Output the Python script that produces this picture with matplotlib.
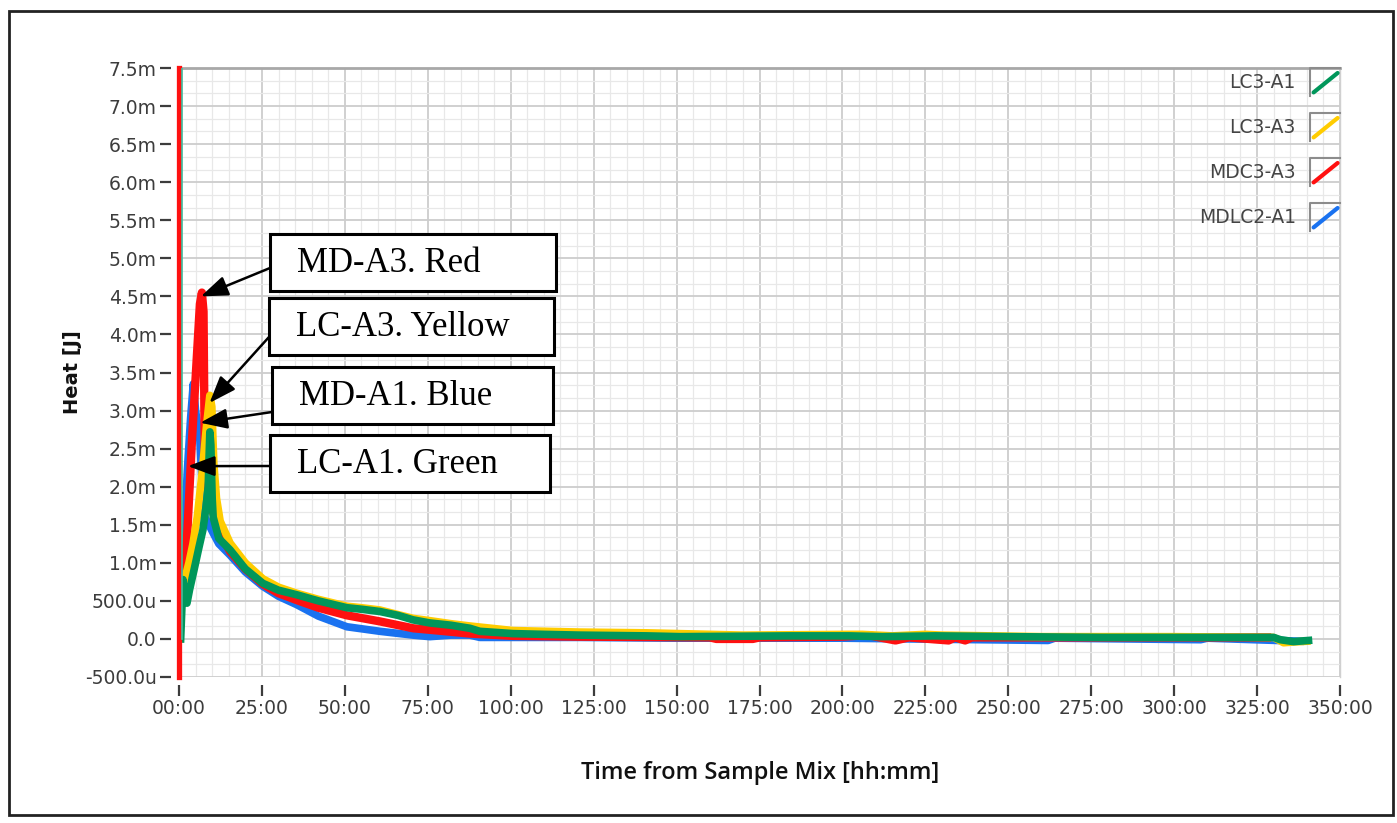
import matplotlib
matplotlib.use("Agg")
import matplotlib.pyplot as plt
from matplotlib.ticker import MultipleLocator, AutoMinorLocator, FuncFormatter
from matplotlib.patches import Rectangle
from matplotlib.lines import Line2D
from matplotlib.legend_handler import HandlerBase

W, H = 1397, 823

# series values, time in the chart's own units, heat in mJ
green_t = [0.5, 1.2, 1.6, 2.4, 3.2, 4.5, 6.0, 7.2, 8.2, 8.8, 9.3, 9.6, 10.0, 10.3, 12.0, 15.4, 20.0,
           25.3, 30.0, 35.5, 42.0, 50.6, 55.0, 60.6, 66.0, 70.6, 75.6, 82.0, 87.7, 90.7, 100.7, 110.0,
           120.9, 141.0, 151.0, 184.0, 202.0, 212.0, 228.0, 250.0, 278.0, 300.0, 330.0, 332.0, 336.0, 340.5]
green_v = [0.0, 0.78, 0.55, 0.47, 0.65, 0.9, 1.2, 1.43, 1.75, 2.0, 2.72, 2.55, 1.85, 1.6, 1.32, 1.17, 0.92,
           0.73, 0.64, 0.58, 0.5, 0.41, 0.39, 0.36, 0.31, 0.25, 0.21, 0.18, 0.14, 0.10, 0.07, 0.06,
           0.05, 0.04, 0.03, 0.04, 0.04, 0.03, 0.04, 0.03, 0.02, 0.02, 0.02, -0.01, -0.035, -0.02]

yellow_t = [0.8, 1.5, 3.0, 4.2, 5.5, 7.0, 8.3, 9.3, 9.9, 10.5, 11.3, 12.4, 15.4, 20.0, 25.3, 30.0, 35.5,
            42.0, 50.6, 55.0, 60.6, 66.0, 70.6, 75.6, 82.0, 87.7, 100.7, 120.9, 141.0, 170.0, 202.0,
            206.0, 215.0, 225.0, 230.0, 260.0, 300.0, 330.0, 333.0, 336.0, 340.0]
yellow_v = [0.6, 0.75, 1.0, 1.25, 1.6, 2.2, 2.8, 3.2, 3.05, 2.3, 1.85, 1.55, 1.26, 1.0, 0.79, 0.68, 0.60,
            0.52, 0.43, 0.41, 0.38, 0.32, 0.27, 0.24, 0.2, 0.17, 0.11, 0.09, 0.08, 0.05, 0.06,
            0.06, 0.04, 0.06, 0.05, 0.03, 0.03, 0.02, -0.05, -0.04, -0.03]

red_t = [1.0, 1.2, 2.4, 3.9, 5.1, 6.3, 6.9, 7.4, 7.8, 9.0, 10.0, 12.4, 15.4, 20.0, 25.3, 30.0, 35.5, 42.0,
         50.6, 60.6, 70.6, 75.6, 87.7, 100.7, 120.0, 160.0, 162.0, 173.0, 175.0, 200.0, 208.0, 210.0,
         216.0, 220.0, 232.0, 234.0, 237.0, 239.0, 270.0, 328.0]
red_v = [0.6, 0.84, 1.3, 2.6, 3.5, 4.4, 4.55, 4.3, 2.2, 1.9, 1.7, 1.38, 1.15, 0.92, 0.72, 0.6, 0.51, 0.41,
         0.31, 0.23, 0.14, 0.12, 0.07, 0.04, 0.03, 0.02, 0.0, 0.0, 0.02, 0.03, 0.05, 0.03,
         -0.02, 0.02, -0.02, 0.02, -0.02, 0.02, 0.02, 0.02]

blue_t = [0.6, 1.5, 2.5, 3.5, 4.3, 5.0, 6.3, 7.0, 7.8, 9.0, 10.3, 12.0, 15.4, 20.0, 25.3, 30.0, 35.5,
          42.0, 50.6, 60.6, 70.6, 75.6, 82.0, 87.7, 90.7, 100.7, 120.9, 150.0, 200.0, 262.0, 264.0,
          308.0, 310.0, 338.0]
blue_v = [0.55, 1.3, 2.2, 2.9, 3.35, 3.0, 2.6, 2.0, 1.6, 1.5, 1.39, 1.25, 1.10, 0.88, 0.69, 0.56, 0.45,
          0.30, 0.16, 0.10, 0.05, 0.03, 0.05, 0.05, 0.02, 0.02, 0.02, 0.01, 0.01, -0.02, 0.01,
          -0.01, 0.01, -0.03]

# start-up spikes at the left edge
red_spike_t = [0.0, 0.0]
red_spike_v = [-0.5, 7.5]
green_spike_t = [0.9, 0.9]
green_spike_v = [0.0, 7.5]

series_names = ["LC3-A1", "LC3-A3", "MDC3-A3", "MDLC2-A1"]
series_colors = ["#00965a", "#ffcc00", "#ff1010", "#1a72f0"]

box_labels = ["MD-A3. Red", "LC-A3. Yellow", "MD-A1. Blue", "LC-A1. Green"]
arrow_tip_t = [6.6, 9.2, 6.4, 2.7]
arrow_tip_v = [4.5, 3.1, 2.84, 2.27]


def fx(px):
    return px / W


def fy(py):
    return 1 - py / H


class BoxLineHandler(HandlerBase):
    def create_artists(self, legend, orig_handle, xdescent, ydescent, width, height, fontsize, trans):
        x0, y0 = -xdescent, -ydescent
        frame = Line2D([x0, x0, x0 + width], [y0, y0 + height, y0 + height],
                       color="#8c8c8c", lw=1.5, transform=trans)
        diag = Line2D([x0 + 0.12 * width, x0 + 0.92 * width], [y0 + 0.12 * height, y0 + 0.82 * height],
                      color=orig_handle.get_color(), lw=3, solid_capstyle="round", transform=trans)
        return [frame, diag]


def fmt_heat(v, pos):
    if abs(v) < 1e-9:
        return "0.0"
    if abs(v) >= 1:
        return f"{v:.1f}m"
    return f"{v * 1000:.1f}u"


def fmt_time(t, pos):
    return f"{int(round(t)):02d}:00"


fig = plt.figure(figsize=(W / 100, H / 100), dpi=100)
ax = fig.add_axes([fx(179), fy(677), fx(1340) - fx(179), fy(68) - fy(677)])

lw = 5.5
lb, = ax.plot(blue_t, blue_v, color=series_colors[3], lw=lw, solid_joinstyle="round", zorder=3)
lr, = ax.plot(red_t, red_v, color=series_colors[2], lw=lw + 0.5, solid_joinstyle="round", zorder=4)
ly, = ax.plot(yellow_t, yellow_v, color=series_colors[1], lw=lw, solid_joinstyle="round", zorder=5)
lg, = ax.plot(green_t, green_v, color=series_colors[0], lw=lw, solid_joinstyle="round", zorder=6)
ax.plot(red_spike_t, red_spike_v, color=series_colors[2], lw=3.8, clip_on=False, zorder=7)
ax.plot(green_spike_t, green_spike_v, color="#40c0a0", lw=1.2, zorder=7)

ax.set_xlim(0, 350)
ax.set_ylim(-0.5, 7.5)
ax.xaxis.set_major_locator(MultipleLocator(25))
ax.xaxis.set_minor_locator(MultipleLocator(5))
ax.yaxis.set_major_locator(MultipleLocator(0.5))
ax.yaxis.set_minor_locator(AutoMinorLocator(3))
ax.xaxis.set_major_formatter(FuncFormatter(fmt_time))
ax.yaxis.set_major_formatter(FuncFormatter(fmt_heat))

ax.set_axisbelow(True)
ax.grid(which="major", color="#cdcdcd", lw=1.3)
ax.grid(which="minor", color="#e8e8e8", lw=0.9)

for s in ["left", "bottom"]:
    ax.spines[s].set_position(("outward", 6))
    ax.spines[s].set_visible(False)
ax.spines["top"].set_color("#a8a8a8")
ax.spines["top"].set_linewidth(2)
ax.spines["right"].set_color("#d0d0d0")
ax.spines["right"].set_linewidth(1)

ax.tick_params(which="major", direction="out", length=8, width=1.6, color="#3c3c3c",
               labelcolor="#3c3c3c", labelsize=13.5, pad=2)
ax.tick_params(which="minor", length=0)

leg = ax.legend([lg, ly, lr, lb], series_names, loc="upper right", frameon=False, markerfirst=False,
                fontsize=13.5, handlelength=1.6, handleheight=1.9, labelspacing=0.92,
                handletextpad=0.75, borderaxespad=0, borderpad=0, labelcolor="#444444",
                handler_map={Line2D: BoxLineHandler()})

# annotation boxes with arrows (pixel positions of the boxes)
box_left = [270, 269, 272, 270]
box_top = [234, 298, 367, 435]
box_w = [286, 285, 281, 280]
box_h = 57
arrow_from_y = [268, 337, 412, 466]

for i, lab in enumerate(box_labels):
    ax.annotate("", xy=(arrow_tip_t[i], arrow_tip_v[i]), xycoords="data",
                xytext=(box_left[i], H - arrow_from_y[i]), textcoords="figure pixels",
                arrowprops=dict(arrowstyle="-|>,head_length=0.75,head_width=0.28", color="black",
                                lw=1.8, mutation_scale=22, shrinkA=0, shrinkB=0), zorder=10)
    fig.add_artist(Rectangle((fx(box_left[i]), fy(box_top[i] + box_h)), fx(box_w[i]), box_h / H,
                             facecolor="white", edgecolor="black", lw=2.2, transform=fig.transFigure))
    fig.text(fx(box_left[i] + 27), fy(box_top[i] + box_h / 2 + 1), lab, fontsize=25,
             family="Liberation Serif", ha="left", va="center", color="black")

fig.text(fx(72), fy(372), "Heat [J]", rotation=90, ha="center", va="center", fontsize=14,
         fontweight="bold", color="#111111")
fig.text(fx(760), fy(773), "Time from Sample Mix [hh:mm]", ha="center", va="center", fontsize=17,
         family="Open Sans", fontweight="semibold", color="#111111")

fig.add_artist(Rectangle((fx(9), fy(815)), fx(1393) - fx(9), fy(11) - fy(815), fill=False,
                         edgecolor="#222222", lw=2, transform=fig.transFigure))

fig.savefig("out.png", dpi=100)
